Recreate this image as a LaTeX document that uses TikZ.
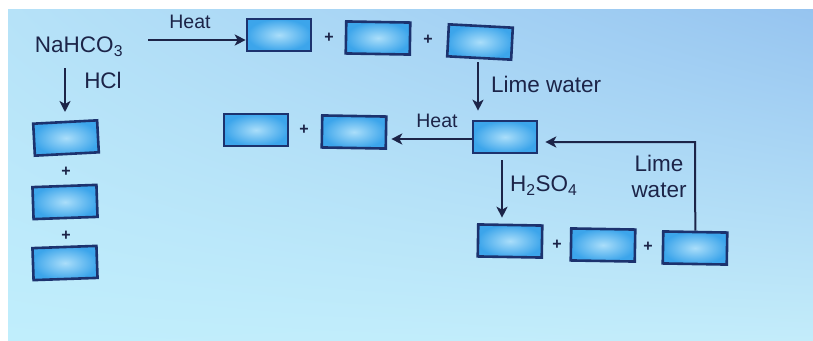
\documentclass[tikz,border=0pt]{standalone}
\usepackage{fontspec}
\setmainfont{Liberation Sans}
\usetikzlibrary{arrows.meta,shadings}
\definecolor{ink}{RGB}{28,36,72}
\definecolor{boxedge}{RGB}{28,50,110}
\definecolor{boxin}{RGB}{170,222,250}
\definecolor{boxout}{RGB}{60,165,235}
\definecolor{bgLL}{RGB}{192,238,252}
\definecolor{bgLR}{RGB}{195,236,250}
\definecolor{bgUL}{RGB}{182,226,248}
\definecolor{bgUR}{RGB}{150,196,240}
\begin{document}
\begin{tikzpicture}[x=1pt,y=-1pt,
  blank/.style={shading=radial, inner color=boxin, outer color=boxout,
    draw=boxedge, line width=2.6pt, minimum width=64pt, minimum height=32pt,
    inner sep=0pt},
  plus/.style={text=ink, font=\fontsize{16}{16}\selectfont\bfseries, inner sep=0pt},
  lbl/.style={text=ink, font=\fontsize{22.5}{26}\selectfont, inner sep=0pt},
  small/.style={text=ink, font=\fontsize{19.5}{21}\selectfont, inner sep=0pt},
  arr/.style={draw=ink, line width=2pt,
    -{Stealth[length=11pt,width=11pt,inset=3pt]}}]
% page and paper background
\useasboundingbox (0,0) rectangle (813,340);
\fill[white] (0,0) rectangle (813,340);
\shade[upper left=bgUL, upper right=bgUR, lower left=bgLL, lower right=bgLR]
  (8,9) rectangle (813,340);

% starting compound
\node[lbl] (na) at (79,47) {NaHCO\textsubscript{3}};
\coordinate (h1) at (148,40);

% products of heating
\node[blank] (t1) at (279,35) {};
\node[plus] (p1) at (329,38) {+};
\node[blank, rotate=-1] (t2) at (378,38) {};
\node[plus] (p2) at (428,40) {+};
\node[blank, rotate=-3] (t3) at (480,42) {};

% products with HCl
\node[blank, rotate=3] (l1) at (66,138) {};
\node[plus] (p3) at (66,172) {+};
\node[blank, rotate=2] (l2) at (65,202) {};
\node[plus] (p4) at (66,236) {+};
\node[blank, rotate=2] (l3) at (65,263) {};

% lime water product
\node[blank] (m) at (505,137) {};

% products of heating it
\node[blank] (k1) at (256,130) {};
\node[plus] (p5) at (304,130) {+};
\node[blank, rotate=-1] (k2) at (354,132) {};

% products with sulphuric acid
\node[blank, rotate=-1] (b1) at (510,241) {};
\node[plus] (p6) at (557,245) {+};
\node[blank, rotate=-1] (b2) at (603,245) {};
\node[plus] (p7) at (648,247) {+};
\node[blank, rotate=-1] (b3) at (695,248) {};

% reactions
\draw[arr] (h1) -- (h1 -| t1.west);
\node[small] (heat1) at (190,22) {Heat};

\draw[arr, shorten <=2pt] (65,66) -- (65,112);
\node[lbl] (hcl) at (103,80) {HCl};

\draw[arr, shorten <=3pt, shorten >=9pt] (t3.south -| 478,0) -- (m.north -| 478,0);
\node[lbl, anchor=west] (lw1) at (491,84) {Lime water};

\draw[arr, shorten >=4pt] ([yshift=-2pt]m.west) -- ([yshift=-2pt]m.west -| k2.east);
\node[small] (heat2) at (437,121) {Heat};

\draw[arr, shorten <=6pt, shorten >=6pt] (m.south -| 502,0) -- (b1.north -| 502,0);
\node[lbl, anchor=west] (h2so4) at (510,186) {H\textsubscript{2}SO\textsubscript{4}};

\coordinate (corner) at (695,142);
\draw[arr, shorten >=7pt] (b3.north) -- (corner) -- (corner -| m.east);
\node[lbl, align=center] (lw2) at (659,176) {Lime\\water};
\end{tikzpicture}
\end{document}
